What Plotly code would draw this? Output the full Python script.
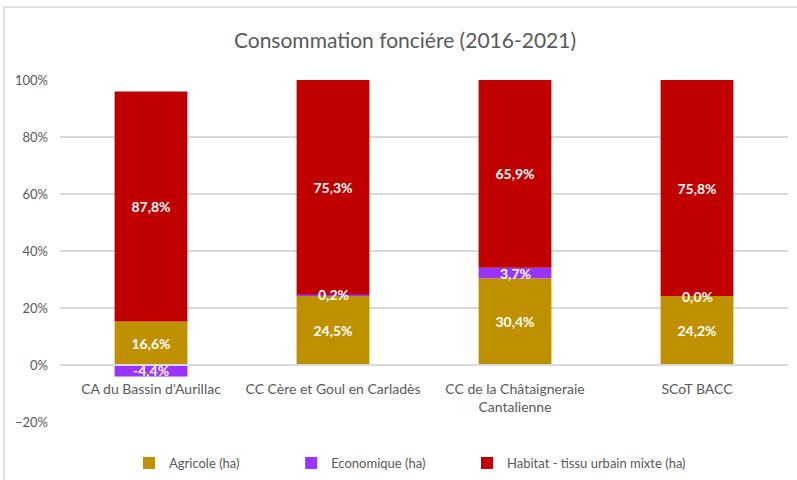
import plotly.graph_objects as go

categories = ["CA du Bassin d'Aurillac", "CC Cère et Goul en Carladès",
              "CC de la Châtaigneraie<br>Cantalienne", "SCoT BACC"]
agricole = [16.6, 24.5, 30.4, 24.2]
economique = [-4.4, 0.2, 3.7, 0.0]
habitat = [87.8, 75.3, 65.9, 75.8]

# Excel 100% stacked: normalise by sum of absolute values
totals = [abs(a) + abs(e) + abs(h) for a, e, h in zip(agricole, economique, habitat)]
norm_agr = [v / t * 100 for v, t in zip(agricole, totals)]
norm_eco = [v / t * 100 for v, t in zip(economique, totals)]
norm_hab = [v / t * 100 for v, t in zip(habitat, totals)]

def fmt(v):
    return f"{v:.1f}".replace(".", ",") + "%"

FONT = "Lato"
GRAY = "#595959"
NB = "\u00a0"
LABEL_FONT = dict(color="white", size=14, family=FONT, weight="bold")

W, H = 797, 480

fig = go.Figure()
fig.add_trace(go.Bar(
    x=categories, y=norm_agr, name="Agricole (ha)" + NB * 14, marker_color="#BF9000",
    marker_line_width=0, text=[fmt(v) for v in agricole], textposition="inside",
    insidetextanchor="middle", textangle=0, constraintext="none", textfont=LABEL_FONT))
fig.add_trace(go.Bar(
    x=categories, y=norm_eco, name="Economique (ha)" + NB * 11, marker_color="#9933FF",
    marker_line_width=0, textposition="none"))
fig.add_trace(go.Bar(
    x=categories, y=norm_hab, name="Habitat - tissu urbain mixte (ha)", marker_color="#C00000",
    marker_line_width=0, text=[fmt(v) for v in habitat], textposition="inside",
    insidetextanchor="middle", textangle=0, constraintext="none", textfont=LABEL_FONT))

# economique labels drawn on top of everything (like Excel)
annotations = []
for c, a, e, raw in zip(categories, norm_agr, norm_eco, economique):
    ymid = e / 2 if e < 0 else a + e / 2
    annotations.append(dict(x=c, y=ymid, xref="x", yref="y", text=fmt(raw),
                            showarrow=False, font=LABEL_FONT, yanchor="middle"))

fig.update_layout(
    barmode="relative",
    bargap=0.6,
    width=W, height=H,
    margin=dict(l=60, r=9, t=80, b=58, autoexpand=False),
    paper_bgcolor="white", plot_bgcolor="white",
    font=dict(family=FONT, color=GRAY, size=13),
    title=dict(text="Consommation fonciére (2016-2021)", x=405 / W, xref="container",
               xanchor="center", y=1 - 41 / H, yref="container", yanchor="middle",
               font=dict(size=21, color=GRAY, family=FONT)),
    xaxis=dict(anchor="free", position=20 / 120, showline=True, linecolor="#d9d9d9",
               linewidth=1.5, ticks="", tickfont=dict(size=14, color=GRAY),
               showgrid=False, fixedrange=True, automargin=False, ticklabelstandoff=11),
    yaxis=dict(range=[-20, 100], dtick=20, ticksuffix="%", showgrid=True,
               gridcolor="#d9d9d9", gridwidth=1.5, zeroline=False, automargin=False,
               tickfont=dict(size=13, color=GRAY), ticklabelstandoff=11),
    legend=dict(orientation="h", x=129 / W, xref="container", xanchor="left",
                y=(422 - 448) / 342, yanchor="top",
                font=dict(size=13, color=GRAY), traceorder="normal"),
    showlegend=True,
    annotations=annotations,
    shapes=[dict(type="rect", xref="paper", yref="paper",
                 x0=(4 - 60) / 728, x1=(830 - 60) / 728,
                 y0=(422 - 520) / 342, y1=1 + (80 - 7) / 342,
                 line=dict(color="#d9d9d9", width=1.5), fillcolor="rgba(0,0,0,0)",
                 layer="below")],
)

fig.write_html("out.html", config={"displayModeBar": False},
               post_script="document.body.style.margin='0';")
